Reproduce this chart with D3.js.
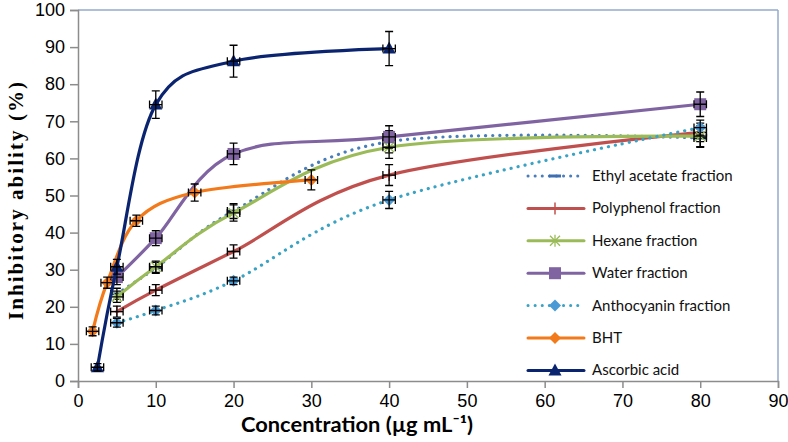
<!DOCTYPE html>
<html><head><meta charset="utf-8">
<script src="https://cdn.jsdelivr.net/npm/d3@7"></script>
<style>body{margin:0;background:#fff}svg{display:block}</style>
</head><body>
<svg id="chart" width="788" height="442"></svg>
<script>
// ---- data ----
const xTicks = [0,10,20,30,40,50,60,70,80,90];
const yTicks = [0,10,20,30,40,50,60,70,80,90,100];
const fractionConc = [5,10,20,40,80];
const ascorbicConc = [2.5,5,10,20,40];
const bhtConc = [1.875,3.75,7.5,15,30];
const ethylAcetate = [23.5,30.5,45.8,64.5,65.5];
const ethylAcetateErr = [1.5,1.5,2,3,2.5];
const polyphenol = [18.7,24.5,34.9,55.5,67];
const polyphenolErr = [1.5,1.5,1.8,2.8,2.5];
const hexane = [22.7,30.8,45.3,63,66];
const hexaneErr = [1.5,1.5,2.2,3,2.8];
const water = [28,38.5,61.2,65.8,74.6];
const waterErr = [2,2,2.9,3,3.3];
const anthocyanin = [15.7,19,27,48.8,68.3];
const anthocyaninErr = [1.2,1.2,1,2.3,2];
const bht = [13.4,26.5,43.2,50.8,54.2];
const bhtErr = [1.2,1.5,1.5,2.3,2.7];
const ascorbic = [3.7,30.8,74.5,86.2,89.6];
const ascorbicErr = [1,2,3.7,4.3,4.6];
const seriesNames = ["Ethyl acetate fraction","Polyphenol fraction","Hexane fraction","Water fraction","Anthocyanin fraction","BHT","Ascorbic acid"];

const series = [
  {name:seriesNames[0], x:fractionConc, y:ethylAcetate, e:ethylAcetateErr, color:"#4A7EBB", mcolor:"#3F6FB0", dotted:true, marker:"dash"},
  {name:seriesNames[1], x:fractionConc, y:polyphenol, e:polyphenolErr, color:"#C0504D", mcolor:"#C0504D", dotted:false, marker:"plus"},
  {name:seriesNames[2], x:fractionConc, y:hexane, e:hexaneErr, color:"#9BBB59", mcolor:"#9BBB59", dotted:false, marker:"star"},
  {name:seriesNames[3], x:fractionConc, y:water, e:waterErr, color:"#8064A2", mcolor:"#8064A2", dotted:false, marker:"square"},
  {name:seriesNames[4], x:fractionConc, y:anthocyanin, e:anthocyaninErr, color:"#3AA3C4", mcolor:"#4A9BD5", dotted:true, marker:"diamond"},
  {name:seriesNames[5], x:bhtConc, y:bht, e:bhtErr, color:"#F27A1B", mcolor:"#F27A1B", dotted:false, marker:"diamond"},
  {name:seriesNames[6], x:ascorbicConc, y:ascorbic, e:ascorbicErr, color:"#0B2470", mcolor:"#0B2470", dotted:false, marker:"triangle"}
];

const svg = d3.select("#chart");
const x = d3.scaleLinear().domain([0,90]).range([78,778]);
const y = d3.scaleLinear().domain([0,100]).range([381,10]);

// frame
svg.append("line").attr("x1",78).attr("x2",778).attr("y1",10).attr("y2",10).attr("stroke","#94A8CC").attr("stroke-width",1.5);
svg.append("line").attr("x1",778).attr("x2",778).attr("y1",10).attr("y2",381).attr("stroke","#94A8CC").attr("stroke-width",1.5);

// axes
const yAxis = svg.append("g").attr("transform","translate(78,0)")
  .call(d3.axisLeft(y).tickValues(yTicks).tickSize(8).tickPadding(5));
const xAxis = svg.append("g").attr("transform","translate(0,381)")
  .call(d3.axisBottom(x).tickValues(xTicks).tickSize(7).tickPadding(6));
[yAxis,xAxis].forEach(g=>{
  g.select(".domain").attr("stroke","#8C8C8C").attr("stroke-width",1.5);
  g.selectAll(".tick line").attr("stroke","#8C8C8C").attr("stroke-width",1.5);
  g.selectAll("text").attr("fill","#000").style("font-family","Liberation Sans, Arial, sans-serif").style("font-size","18px");
});
xAxis.selectAll(".tick line").attr("y1",0);

// titles
svg.append("text").attr("x",357).attr("y",432).attr("text-anchor","middle")
  .attr("textLength",232).attr("lengthAdjust","spacingAndGlyphs")
  .style("font-family","Lato, 'Open Sans', sans-serif").style("font-weight","bold").style("font-size","20px")
  .text("Concentration (µg mL⁻¹)");
svg.append("text").attr("transform","translate(23,201) rotate(-90)").attr("text-anchor","middle")
  .attr("textLength",238).attr("lengthAdjust","spacing")
  .style("font-family","Liberation Serif, Times New Roman, serif").style("font-weight","bold").style("font-size","21px")
  .text("Inhibitory ability (%)");

const line = d3.line().curve(d3.curveCardinal.tension(0)).x(d=>x(d[0])).y(d=>y(d[1]));

function marker(g, type, cx, cy, color){
  if(type==="triangle"){
    g.append("path").attr("d",`M${cx},${cy-7}L${cx+6.5},${cy+5}L${cx-6.5},${cy+5}Z`).attr("fill",color);
  } else if(type==="square"){
    g.append("rect").attr("x",cx-6).attr("y",cy-6).attr("width",12).attr("height",12).attr("fill",color);
  } else if(type==="diamond"){
    g.append("path").attr("d",`M${cx},${cy-6}L${cx+6},${cy}L${cx},${cy+6}L${cx-6},${cy}Z`).attr("fill",color);
  } else if(type==="plus"){
    g.append("path").attr("d",`M${cx},${cy-6}V${cy+6}M${cx-6},${cy}H${cx+6}`).attr("stroke",color).attr("stroke-width",1.5);
  } else if(type==="star"){
    g.append("path").attr("d",`M${cx-5},${cy-5}L${cx+5},${cy+5}M${cx-5},${cy+5}L${cx+5},${cy-5}M${cx},${cy-6}V${cy+6}M${cx-6},${cy}H${cx+6}`).attr("stroke",color).attr("stroke-width",1.3);
  } else if(type==="dash"){
    g.append("path").attr("d",`M${cx-6},${cy}H${cx+6}`).attr("stroke",color).attr("stroke-width",3);
  }
}

series.forEach(s=>{
  const g = svg.append("g");
  const pts = s.x.map((v,i)=>[v,s.y[i]]);
  g.append("path").datum(pts).attr("d",line).attr("fill","none")
    .attr("stroke",s.color).attr("stroke-width",3.2)
    .attr("stroke-linecap","round")
    .attr("stroke-dasharray",s.dotted?"0.1 7":null);
  pts.forEach((p,i)=>{
    const cx=x(p[0]), cy=y(p[1]);
    marker(g, s.marker, cx, cy, s.mcolor);
    const e = s.e[i];
    const yt=y(p[1]+e), yb=y(p[1]-e);
    const xl=x(p[0]-0.8), xr=x(p[0]+0.8);
    g.append("path").attr("d",`M${cx},${yt}V${yb}M${cx-4},${yt}H${cx+4}M${cx-4},${yb}H${cx+4}M${xl},${cy}H${xr}M${xl},${cy-4}V${cy+4}M${xr},${cy-4}V${cy+4}`)
      .attr("stroke","#000").attr("stroke-width",1.3).attr("fill","none");
  });
});

// legend
const lg = svg.append("g");
series.forEach((s,i)=>{
  const cy = 176 + i*32.4;
  lg.append("line").attr("x1",528).attr("x2",584).attr("y1",cy).attr("y2",cy)
    .attr("stroke",s.color).attr("stroke-width",3)
    .attr("stroke-linecap","round").attr("stroke-dasharray",s.dotted?"0.1 7":null);
  marker(lg, s.marker, 555, cy, s.mcolor);
  lg.append("text").attr("x",592).attr("y",cy+5)
    .style("font-family","Lato, 'Open Sans', sans-serif").style("font-size","15px").attr("fill","#111")
    .text(s.name);
});
</script>
</body></html>
